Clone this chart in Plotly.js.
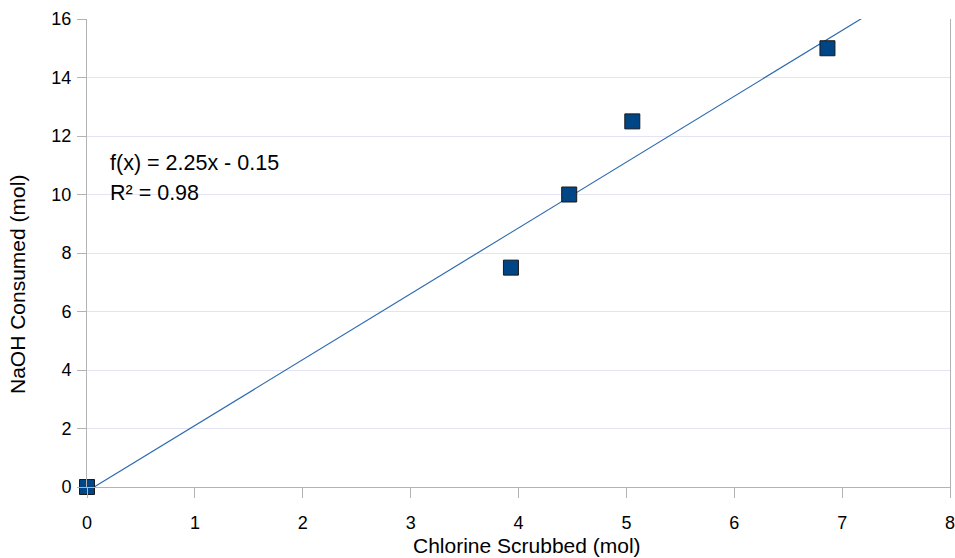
<!DOCTYPE html>
<html>
<head>
<meta charset="utf-8">
<script src="https://cdn.plot.ly/plotly-3.0.1.min.js"></script>
<style>html,body{margin:0;padding:0;background:#fff;}#chart{width:955px;height:558px;}</style>
</head>
<body>
<div id="chart"></div>
<script>
// Data
const chlorineScrubbed = [0, 3.93, 4.47, 5.055, 6.864];
const naohConsumed = [0, 7.5, 10, 12.5, 15];
const trendExtent = [0, 8];
const equationLabel = "f(x) = 2.25x - 0.15";
const r2Label = "R² = 0.98";
const xTitle = "Chlorine Scrubbed (mol)";
const yTitle = "NaOH Consumed (mol)";

// Linear least-squares trendline derived from the data
const n = chlorineScrubbed.length;
const mx = chlorineScrubbed.reduce((a, b) => a + b, 0) / n;
const my = naohConsumed.reduce((a, b) => a + b, 0) / n;
let sxy = 0, sxx = 0;
for (let i = 0; i < n; i++) {
  sxy += (chlorineScrubbed[i] - mx) * (naohConsumed[i] - my);
  sxx += (chlorineScrubbed[i] - mx) ** 2;
}
const slope = sxy / sxx;
const intercept = my - slope * mx;
const trendY = trendExtent.map(x => slope * x + intercept);

const FONT = "Liberation Sans, Arial, sans-serif";

const traces = [
  {
    x: trendExtent, y: trendY, type: 'scatter', mode: 'lines',
    line: {color: '#2e6bb0', width: 1.2}, hoverinfo: 'skip', showlegend: false
  },
  {
    x: chlorineScrubbed, y: naohConsumed, type: 'scatter', mode: 'markers',
    cliponaxis: false,
    marker: {symbol: 'square', size: 15, color: '#004586', line: {color: '#1a1a1a', width: 1}},
    showlegend: false
  }
];

const layout = {
  width: 955, height: 558,
  margin: {l: 87, r: 5, t: 19, b: 71},
  paper_bgcolor: '#fff', plot_bgcolor: '#fff',
  font: {family: FONT, color: '#000'},
  showlegend: false,
  xaxis: {
    range: [0, 8], dtick: 1, tick0: 0,
    showgrid: false, zeroline: false,
    showline: true, linecolor: '#b3b3b3', linewidth: 1,
    ticks: 'outside', ticklen: 10, tickcolor: '#b3b3b3', tickwidth: 1,
    ticklabelstandoff: 9, ticklabeloverflow: 'allow',
    tickfont: {size: 18, family: FONT, color: '#000'}
  },
  yaxis: {
    range: [0, 16], dtick: 2, tick0: 0,
    showgrid: true, gridcolor: '#e3e3f4', gridwidth: 1, zeroline: false,
    showline: true, linecolor: '#b3b3b3', linewidth: 1, mirror: true,
    ticks: 'outside', ticklen: 9, tickcolor: '#b3b3b3', tickwidth: 1,
    ticklabelstandoff: 2, ticklabeloverflow: 'allow',
    tickfont: {size: 18, family: FONT, color: '#000'}
  },
  annotations: [
    {xref: 'paper', yref: 'paper', x: 0.0243, y: 0.692, xanchor: 'left', yanchor: 'middle',
     text: equationLabel, showarrow: false, font: {size: 21.5, family: FONT, color: '#000'}},
    {xref: 'paper', yref: 'paper', x: 0.0243, y: 0.628, xanchor: 'left', yanchor: 'middle',
     text: r2Label, showarrow: false, font: {size: 21.5, family: FONT, color: '#000'}},
    {xref: 'paper', yref: 'paper', x: 0.5098, y: -0.126, xanchor: 'center', yanchor: 'middle',
     text: xTitle, showarrow: false, font: {size: 21, family: FONT, color: '#000'}},
    {xref: 'paper', yref: 'paper', x: -0.0811, y: 0.4316, xanchor: 'center', yanchor: 'middle',
     text: yTitle, textangle: -90, showarrow: false, font: {size: 21, family: FONT, color: '#000'}}
  ]
};

Plotly.newPlot('chart', traces, layout, {displayModeBar: false, staticPlot: true});
</script>
</body>
</html>
